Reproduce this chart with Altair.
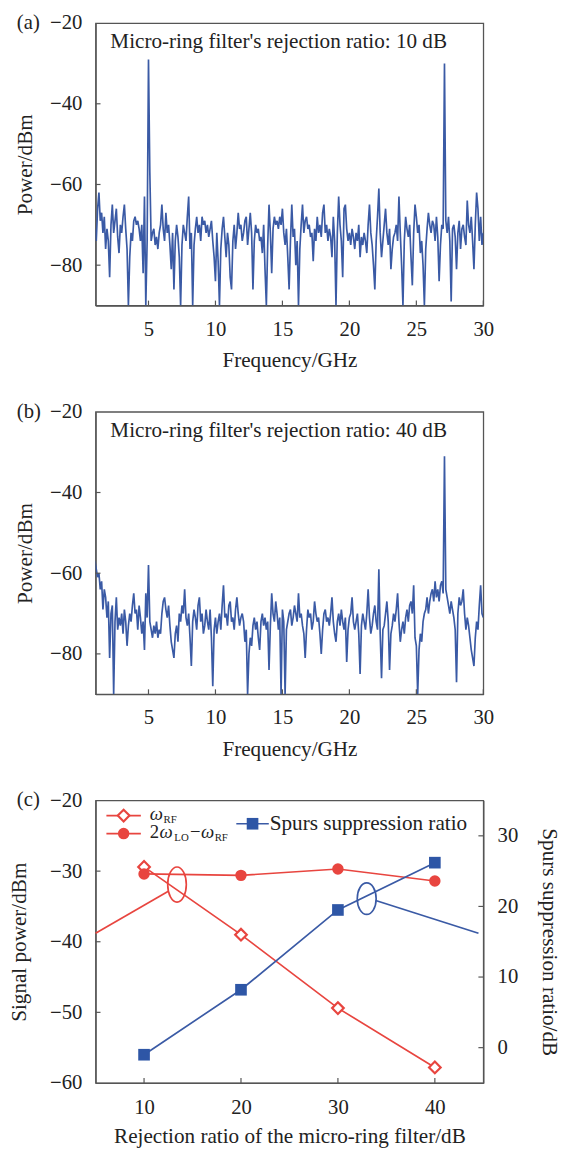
import altair as alt
import pandas as pd

FONT = "Liberation Serif"
BLUE = "#3a5aa5"
RED = "#e8453f"
SQBLUE = "#2e56a6"
FRAME = "#555555"
TEXT = "#222222"

W = 394
H = 287

# ---------------- spectra (a) and (b) ----------------
FREQ = [round(1.0 + 0.1 * i, 1) for i in range(291)]

POWER_A = [
    -71, -74, -66, -62, -69, -67, -72, -68, -76, -71,
    -74, -83, -70, -65, -72, -69, -66, -73, -77, -70,
    -72, -68, -65, -71, -76, -90, -78, -72, -74, -69,
    -68, -70, -69, -71, -74, -70, -82, -63, -90, -74,
    -29, -57, -74, -72, -71, -75, -73, -76, -72, -70,
    -65, -71, -74, -67, -72, -70, -75, -81, -72, -86,
    -74, -70, -73, -78, -90, -75, -70, -72, -74, -68,
    -63, -76, -72, -90, -75, -71, -68, -72, -70, -74,
    -68, -70, -69, -72, -70, -73, -71, -69, -74, -78,
    -84, -72, -79, -90, -76, -71, -68, -73, -78, -72,
    -75, -83, -86, -74, -70, -76, -72, -67, -71, -70,
    -74, -72, -69, -68, -75, -71, -67, -72, -86, -74,
    -70, -72, -71, -74, -73, -77, -70, -81, -90, -75,
    -65, -72, -82, -71, -68, -70, -69, -71, -68, -70,
    -66, -72, -75, -71, -78, -86, -74, -65, -73, -71,
    -80, -74, -90, -76, -70, -65, -72, -69, -68, -71,
    -70, -73, -72, -79, -71, -74, -68, -72, -70, -73,
    -67, -65, -72, -70, -74, -71, -73, -78, -68, -74,
    -90, -72, -63, -70, -74, -83, -66, -65, -71, -74,
    -72, -75, -71, -73, -76, -72, -74, -70, -78, -73,
    -75, -72, -74, -77, -70, -65, -72, -75, -80, -86,
    -74, -68, -61, -72, -78, -74, -70, -66, -72, -75,
    -71, -81, -76, -73, -72, -70, -74, -63, -72, -80,
    -90, -74, -68, -71, -73, -70, -78, -85, -72, -65,
    -68, -72, -70, -77, -74, -80, -90, -76, -71, -67,
    -70, -72, -69, -70, -74, -68, -73, -84, -75, -70,
    -71, -30, -69, -72, -68, -74, -89, -71, -70, -73,
    -81, -72, -69, -76, -71, -70, -73, -75, -64, -70,
    -72, -68, -74, -81, -70, -62, -66, -74, -68, -75,
    -72,
]

POWER_B = [
    -57, -59, -61, -60, -64, -62, -69, -64, -66, -71,
    -67, -81, -70, -68, -90, -72, -66, -74, -71, -73,
    -70, -75, -69, -72, -78, -73, -70, -72, -68, -65,
    -70, -69, -74, -68, -71, -75, -72, -79, -65, -71,
    -58, -72, -74, -76, -73, -75, -72, -76, -74, -75,
    -70, -67, -66, -69, -71, -68, -73, -77, -79, -81,
    -75, -73, -77, -70, -72, -68, -70, -64, -71, -73,
    -70, -76, -83, -72, -69, -71, -74, -68, -66, -72,
    -70, -75, -73, -69, -72, -74, -69, -76, -88, -74,
    -71, -75, -72, -70, -74, -68, -63, -71, -70, -73,
    -68, -67, -72, -71, -74, -69, -66, -70, -73, -71,
    -70, -72, -77, -74, -90, -80, -76, -78, -73, -71,
    -74, -72, -76, -79, -72, -70, -73, -71, -74, -72,
    -84, -73, -65, -70, -72, -67, -70, -74, -71, -90,
    -69, -72, -90, -74, -72, -70, -69, -73, -71, -68,
    -70, -72, -65, -71, -70, -73, -75, -81, -74, -69,
    -71, -70, -74, -72, -67, -70, -72, -71, -75, -80,
    -74, -70, -69, -72, -71, -73, -70, -66, -72, -75,
    -77, -72, -70, -73, -69, -72, -74, -71, -82, -74,
    -71, -70, -66, -72, -74, -72, -70, -75, -85, -73,
    -70, -72, -74, -70, -64, -71, -75, -73, -70, -68,
    -72, -74, -59, -75, -86, -74, -73, -70, -67, -72,
    -84, -75, -73, -70, -72, -69, -65, -72, -77, -74,
    -72, -75, -71, -69, -72, -68, -67, -70, -63, -76,
    -78, -90, -79, -75, -77, -72, -70, -69, -66, -70,
    -67, -65, -64, -67, -62, -66, -64, -67, -63, -62,
    -65, -31, -64, -66, -68, -70, -67, -69, -71, -74,
    -87, -70, -66, -68, -67, -64, -70, -74, -71, -73,
    -76, -79, -81, -83, -76, -72, -74, -68, -63, -70,
    -71,
]

FREQ_TICKS = [5, 10, 15, 20, 25, 30]
POWER_TICKS = [-20, -40, -60, -80]
TITLE_A = "Micro-ring filter's rejection ratio: 10 dB"
TITLE_B = "Micro-ring filter's rejection ratio: 40 dB"

# ---------------- panel (c) ----------------
REJ = [10, 20, 30, 40]
W_RF = [-29.4, -39.0, -49.4, -57.8]
W_IM = [-30.4, -30.6, -29.7, -31.4]
SPUR = [-1.0, 8.2, 19.5, 26.2]
REJ_TICKS = [10, 20, 30, 40]
SIG_TICKS = [-60, -50, -40, -30, -20]
SPUR_TICKS = [0, 10, 20, 30]

# annotation marks (data coordinates)
RED_ELL = {"x": [13.4], "y": [-31.9]}
RED_LINK = {"x": [12.55, 5.0], "y": [-32.8, -38.8]}
BLUE_ELL = {"x": [32.97], "y": [21.1]}
BLUE_LINK = {"x": [33.9, 44.5], "y": [20.85, 16.2]}

ELL_RED_PATH = "M0,-1A0.53,1,0,1,1,0,1A0.53,1,0,1,1,0,-1Z"
ELL_BLUE_PATH = "M0,-1A0.6,1,0,1,1,0,1A0.6,1,0,1,1,0,-1Z"


def one(**kw):
    return pd.DataFrame({k: [v] for k, v in kw.items()})


def text_at(s, x, y, size=21, style="normal", align="left", baseline="middle"):
    return alt.Chart(one(s=s)).mark_text(
        font=FONT, fontSize=size, fontStyle=style, align=align,
        baseline=baseline, color=TEXT
    ).encode(text="s:N", x=alt.value(x), y=alt.value(y))


def spectrum(power, label, title):
    df = pd.DataFrame({"f": FREQ, "p": power})
    xs = alt.Scale(domain=[1.05, 30], nice=False, zero=False)
    ys = alt.Scale(domain=[-90, -20], nice=False, zero=False)
    ax_x = alt.Axis(values=FREQ_TICKS, title="Frequency/GHz", titleY=56,
                    titleBaseline="middle", labelPadding=13)
    ax_y = alt.Axis(values=POWER_TICKS, title="Power/dBm", titleX=-71,
                    titleY=H / 2, titleBaseline="middle", labelPadding=14)
    line = alt.Chart(df).mark_line(color=BLUE, strokeWidth=1.7, clip=True).encode(
        x=alt.X("f:Q", scale=xs, axis=ax_x),
        y=alt.Y("p:Q", scale=ys, axis=ax_y),
    )
    xt = alt.Chart(pd.DataFrame({"t": FREQ_TICKS})).mark_rule(
        color=FRAME, strokeWidth=1.2).encode(
        x=alt.X("t:Q", scale=xs, axis=ax_x), y=alt.value(H), y2=alt.value(H - 5))
    yt = alt.Chart(pd.DataFrame({"v": POWER_TICKS[1:]})).mark_rule(
        color=FRAME, strokeWidth=1.2).encode(
        y=alt.Y("v:Q", scale=ys, axis=ax_y), x=alt.value(0), x2=alt.value(5))
    return alt.layer(
        line, xt, yt,
        text_at(label, -80, 0),
        text_at(title, 15, 19.5, size=21.5),
    ).properties(width=W, height=H)


pa = spectrum(POWER_A, "(a)", TITLE_A)
pb = spectrum(POWER_B, "(b)", TITLE_B)

# ---- panel (c)
dfc = pd.DataFrame({"r": REJ, "wrf": W_RF, "wim": W_IM, "spur": SPUR})
xs_c = alt.Scale(domain=[5, 45], nice=False, zero=False)
yl = alt.Scale(domain=[-60, -20], nice=False, zero=False)
yr = alt.Scale(domain=[-5, 35], nice=False, zero=False)
AX_XC = alt.Axis(values=REJ_TICKS, title="Rejection ratio of the micro-ring filter/dB",
                 titleY=55, titleBaseline="middle", labelPadding=14)
AX_YL = alt.Axis(values=SIG_TICKS, orient="left", title="Signal power/dBm",
                 titleX=-77, titleY=H / 2, titleBaseline="middle", labelPadding=14)
AX_YR = alt.Axis(values=SPUR_TICKS, orient="right", title="Spurs suppression ratio/dB",
                 titleX=66, titleY=H / 2, titleBaseline="middle", labelPadding=14)


def X(field):
    return alt.X(field, type="quantitative", scale=xs_c, axis=AX_XC)


def YL(field):
    return alt.Y(field, type="quantitative", scale=yl, axis=AX_YL)


def YR(field):
    return alt.Y(field, type="quantitative", scale=yr, axis=AX_YR)


base = alt.Chart(dfc)
rf_line = base.mark_line(color=RED, strokeWidth=1.7).encode(x=X("r"), y=YL("wrf"))
im_line = base.mark_line(color=RED, strokeWidth=1.7).encode(x=X("r"), y=YL("wim"))
red_link = alt.Chart(pd.DataFrame(RED_LINK)).mark_line(
    color=RED, strokeWidth=1.7).encode(x=X("x"), y=YL("y"))
red_ell = alt.Chart(pd.DataFrame(RED_ELL)).mark_point(
    shape=ELL_RED_PATH, size=1274, filled=False, stroke=RED, strokeWidth=1.7,
    opacity=1).encode(x=X("x"), y=YL("y"))
rf_pts = base.mark_point(shape="diamond", filled=True, fill="white", stroke=RED,
                         strokeWidth=2.2, size=140, opacity=1).encode(
    x=X("r"), y=YL("wrf"))
im_pts = base.mark_point(shape="circle", filled=True, fill=RED, size=135,
                         opacity=1).encode(x=X("r"), y=YL("wim"))
xt_c = alt.Chart(pd.DataFrame({"t": REJ_TICKS})).mark_rule(
    color=FRAME, strokeWidth=1.2).encode(
    x=X("t"), y=alt.value(H), y2=alt.value(H - 5))
yt_l = alt.Chart(pd.DataFrame({"v": SIG_TICKS[1:-1]})).mark_rule(
    color=FRAME, strokeWidth=1.2).encode(
    y=YL("v"), x=alt.value(0), x2=alt.value(5))

# legend (drawn by hand)
leg = one(k=0)
leg_rf_line = alt.Chart(leg).mark_rule(color=RED, strokeWidth=1.7).encode(
    x=alt.value(11), x2=alt.value(46), y=alt.value(15.3))
leg_im_line = alt.Chart(leg).mark_rule(color=RED, strokeWidth=1.7).encode(
    x=alt.value(11), x2=alt.value(46), y=alt.value(33.6))
leg_rf_pt = alt.Chart(leg).mark_point(shape="diamond", filled=True, fill="white",
                                      stroke=RED, strokeWidth=2.2, size=140,
                                      opacity=1).encode(
    x=alt.value(28.5), y=alt.value(15.3))
leg_im_pt = alt.Chart(leg).mark_point(shape="circle", filled=True, fill=RED,
                                      size=135, opacity=1).encode(
    x=alt.value(28.5), y=alt.value(33.6))
leg_sp_line = alt.Chart(leg).mark_rule(color=BLUE, strokeWidth=1.7).encode(
    x=alt.value(143), x2=alt.value(176), y=alt.value(23.6))
leg_sp_pt = alt.Chart(leg).mark_point(shape="square", filled=True, fill=SQBLUE,
                                      size=140, opacity=1).encode(
    x=alt.value(159.5), y=alt.value(23.6))

legend_text = [
    text_at("ω", 55, 19.5, size=19, style="italic", baseline="alphabetic"),
    text_at("RF", 69, 22.5, size=11, baseline="alphabetic"),
    text_at("2", 55, 38, size=19, baseline="alphabetic"),
    text_at("ω", 65, 38, size=19, style="italic", baseline="alphabetic"),
    text_at("LO", 80, 41, size=11, baseline="alphabetic"),
    text_at("−", 96, 38, size=19, baseline="alphabetic"),
    text_at("ω", 107, 38, size=19, style="italic", baseline="alphabetic"),
    text_at("RF", 121, 41, size=11, baseline="alphabetic"),
    text_at("Spurs suppression ratio", 177, 29.5, size=21.5, baseline="alphabetic"),
]

left_group = alt.layer(
    rf_line, im_line, red_link, red_ell, rf_pts, im_pts, xt_c, yt_l,
    leg_rf_line, leg_im_line, leg_rf_pt, leg_im_pt, leg_sp_line, leg_sp_pt,
    *legend_text,
    text_at("(c)", -80, 0),
)

sp_line = base.mark_line(color=BLUE, strokeWidth=1.7).encode(x=X("r"), y=YR("spur"))
sp_pts = base.mark_point(shape="square", filled=True, fill=SQBLUE, size=140,
                         opacity=1).encode(x=X("r"), y=YR("spur"))
blue_link = alt.Chart(pd.DataFrame(BLUE_LINK)).mark_line(
    color=BLUE, strokeWidth=1.7).encode(x=X("x"), y=YR("y"))
blue_ell = alt.Chart(pd.DataFrame(BLUE_ELL)).mark_point(
    shape=ELL_BLUE_PATH, size=1024, filled=False, stroke=BLUE, strokeWidth=1.7,
    opacity=1).encode(x=X("x"), y=YR("y"))
yt_r = alt.Chart(pd.DataFrame({"v": SPUR_TICKS})).mark_rule(
    color=FRAME, strokeWidth=1.2).encode(
    y=YR("v"), x=alt.value(W), x2=alt.value(W - 5))

right_group = alt.layer(sp_line, blue_link, blue_ell, sp_pts, yt_r)

pc = alt.layer(left_group, right_group).resolve_scale(y="independent").properties(
    width=W, height=H)

chart = alt.vconcat(pa, pb, pc, spacing=108, bounds="flush").properties(
    padding={"left": 0, "top": -6, "right": 5, "bottom": 5}
).configure_axis(
    labelFont=FONT, labelFontSize=21, labelColor=TEXT, labelFlush=False,
    titleFont=FONT, titleFontSize=21.5, titleFontWeight="normal", titleColor=TEXT,
    domainColor=FRAME, domainWidth=1.3, grid=False, ticks=False,
).configure_view(stroke=FRAME, strokeWidth=1.3)

chart.save("out.html", embed_options={"renderer": "svg", "actions": False})
